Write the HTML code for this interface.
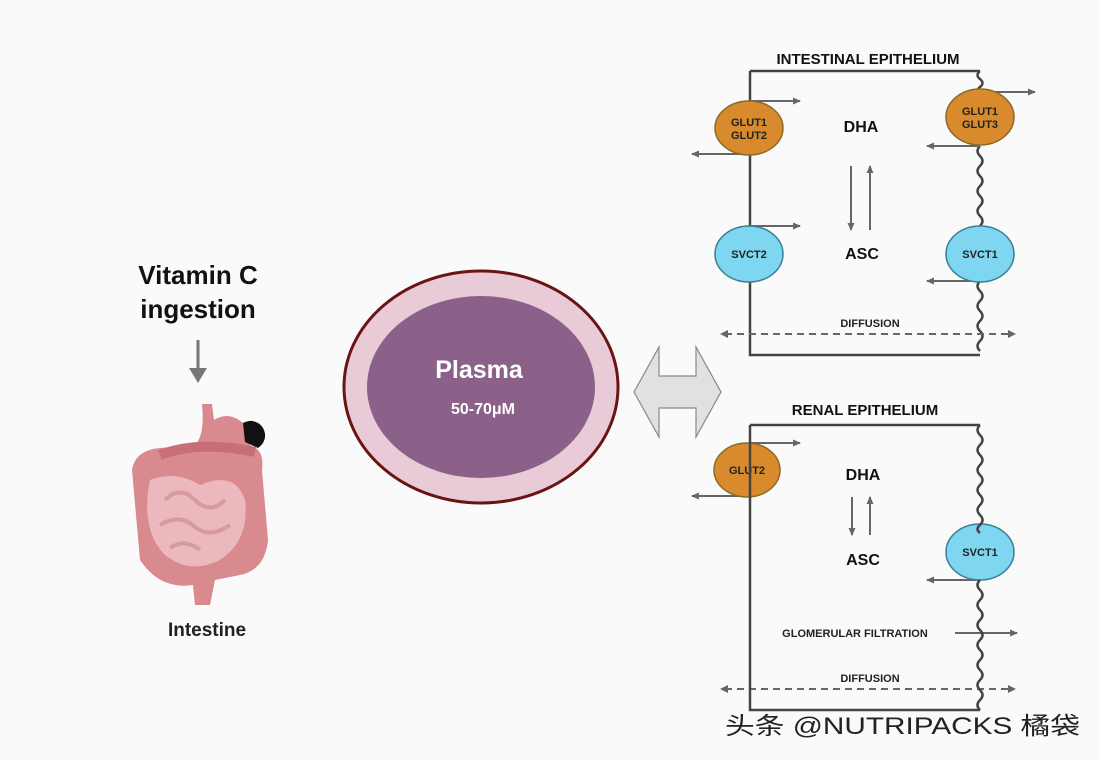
<!DOCTYPE html>
<html><head><meta charset="utf-8"><style>
body{margin:0;background:#fafafa;}
svg{display:block;font-family:"Liberation Sans",sans-serif;}
</style></head><body>
<svg width="1100" height="760" viewBox="0 0 1100 760" xmlns="http://www.w3.org/2000/svg">
<defs>
<marker id="ah" markerWidth="8" markerHeight="8" refX="7" refY="4" orient="auto" markerUnits="userSpaceOnUse"><path d="M0,0.5 L8,4 L0,7.5 Z" fill="#666"/></marker>
</defs>
<rect width="1100" height="760" fill="#fafafa"/>
<text x="198" y="284" font-size="26" font-weight="bold" text-anchor="middle" fill="#111">Vitamin C</text>
<text x="198" y="318" font-size="26" font-weight="bold" text-anchor="middle" fill="#111">ingestion</text>
<line x1="198" y1="340" x2="198" y2="372" stroke="#777" stroke-width="3"/>
<path d="M189,368 L207,368 L198,383 Z" fill="#777"/>
<path d="M202,404 L212,404 L214,420 Q230,410 245,425 L250,445 Q265,450 262,470 L268,540 Q265,570 240,575 L215,580 L210,605 L195,605 L193,585 Q160,590 140,560 L132,470 Q135,450 160,448 L195,445 Q205,435 202,404 Z" fill="#d98a8f"/>
<path d="M150,480 Q175,470 200,485 Q235,470 245,500 Q250,540 220,560 Q190,575 165,555 Q140,530 150,480 Z" fill="#ebb9bd"/>
<path d="M165,500 q15,-15 30,0 q15,15 30,0 M160,525 q20,-12 35,2 q15,12 35,-2 M170,548 q15,-10 30,2" stroke="#d79aa0" stroke-width="4" fill="none"/>
<path d="M160,455 Q200,440 255,452" stroke="#c86f76" stroke-width="10" fill="none"/>
<path d="M243,423 A14,14 0 0 1 258,448 L245,442 Z" fill="#111"/>
<text x="207" y="636" font-size="19" font-weight="bold" text-anchor="middle" fill="#222">Intestine</text>
<ellipse cx="481" cy="387" rx="137" ry="116" fill="#e9cbd8" stroke="#6b1414" stroke-width="3"/>
<ellipse cx="481" cy="387" rx="114" ry="91" fill="#8b6189"/>
<text x="479" y="378" font-size="25" font-weight="bold" text-anchor="middle" fill="#fff">Plasma</text>
<text x="483" y="414" font-size="16" font-weight="bold" text-anchor="middle" fill="#fff">50-70μM</text>
<path d="M634,392 L659,347 L659,376 L696,376 L696,347 L721,392 L696,437 L696,408 L659,408 L659,437 Z" fill="#e1e1e1" stroke="#888" stroke-width="1.2"/>
<text x="868" y="64" font-size="15" font-weight="bold" text-anchor="middle" fill="#111">INTESTINAL EPITHELIUM</text>
<g stroke="#444" stroke-width="2.5" fill="none">
<path d="M750,71 L980,71 M750,71 L750,355 L980,355"/>
<path d="M980,71 q-5,4 0,8 q5,4 0,8 q-5,4 0,8 M980,146 q-5,5 0,10 q5,5 0,10 q-5,5 0,10 q5,5 0,10 q-5,5 0,10 q5,5 0,10 q-5,5 0,10 q5,5 0,10 M980,281 q-5,5 0,10 q5,5 0,10 q-5,5 0,10 q5,5 0,10 q-5,5 0,10 q5,5 0,10 q-5,5 0,10"/>
</g>
<g stroke="#666" stroke-width="2" marker-end="url(#ah)">
<line x1="750" y1="101" x2="800" y2="101"/><line x1="750" y1="154" x2="692" y2="154"/>
<line x1="980" y1="92" x2="1035" y2="92"/><line x1="980" y1="146" x2="927" y2="146"/>
<line x1="750" y1="226" x2="800" y2="226"/><line x1="980" y1="281" x2="927" y2="281"/>
<line x1="851" y1="166" x2="851" y2="230"/><line x1="870" y1="230" x2="870" y2="166"/>
<line x1="852" y1="497" x2="852" y2="535"/><line x1="870" y1="535" x2="870" y2="497"/>
<line x1="750" y1="443" x2="800" y2="443"/><line x1="750" y1="496" x2="692" y2="496"/>
<line x1="980" y1="580" x2="927" y2="580"/><line x1="955" y1="633" x2="1017" y2="633"/>
</g>
<g stroke="#666" stroke-width="2" stroke-dasharray="7,5">
<line x1="725" y1="334" x2="1010" y2="334"/><line x1="725" y1="689" x2="1010" y2="689"/>
</g>
<path d="M720,334 l8,-4 v8 Z M1016,334 l-8,-4 v8 Z M720,689 l8,-4 v8 Z M1016,689 l-8,-4 v8 Z" fill="#666"/>
<g stroke="#8a6a2a" stroke-width="1.5">
<ellipse cx="749" cy="128" rx="34" ry="27" fill="#d98a2c"/>
<ellipse cx="980" cy="117" rx="34" ry="28" fill="#d98a2c"/>
<ellipse cx="747" cy="470" rx="33" ry="27" fill="#d98a2c"/>
</g>
<g stroke="#3b7f95" stroke-width="1.5" fill="#7fd6f0">
<ellipse cx="749" cy="254" rx="34" ry="28"/><ellipse cx="980" cy="254" rx="34" ry="28"/><ellipse cx="980" cy="552" rx="34" ry="28"/>
</g>
<g font-size="11" font-weight="bold" text-anchor="middle" fill="#222">
<text x="749" y="126">GLUT1</text><text x="749" y="139">GLUT2</text>
<text x="980" y="115">GLUT1</text><text x="980" y="128">GLUT3</text>
<text x="747" y="474">GLUT2</text>
<text x="749" y="258">SVCT2</text><text x="980" y="258">SVCT1</text><text x="980" y="556">SVCT1</text>
<text x="870" y="327">DIFFUSION</text><text x="870" y="682">DIFFUSION</text>
<text x="855" y="637">GLOMERULAR FILTRATION</text>
</g>
<g font-size="16" font-weight="bold" text-anchor="middle" fill="#111">
<text x="861" y="132">DHA</text><text x="862" y="259">ASC</text>
<text x="863" y="480">DHA</text><text x="863" y="565">ASC</text>
</g>
<text x="865" y="415" font-size="15" font-weight="bold" text-anchor="middle" fill="#111">RENAL EPITHELIUM</text>
<g stroke="#444" stroke-width="2.5" fill="none">
<path d="M750,425 L980,425 M750,425 L750,710 L980,710"/>
<path d="M980,425 q-5,5 0,10 q5,5 0,10 q-5,5 0,10 q5,5 0,10 q-5,5 0,10 q5,5 0,10 q-5,5 0,10 q5,5 0,10 q-5,5 0,10 q5,5 0,10 q-5,4 0,8 M980,580 q-5,5 0,10 q5,5 0,10 q-5,5 0,10 q5,5 0,10 q-5,5 0,10 q5,5 0,10 q-5,5 0,10 q5,5 0,10 q-5,5 0,10 q5,5 0,10 q-5,5 0,10 q5,5 0,10 q-5,5 0,10"/>
</g>
<text x="725" y="734" font-size="24" textLength="355" lengthAdjust="spacingAndGlyphs" fill="#222" font-family="'Liberation Sans','Noto Sans CJK SC',sans-serif">头条 @NUTRIPACKS 橘袋</text>
</svg>
</body></html>
